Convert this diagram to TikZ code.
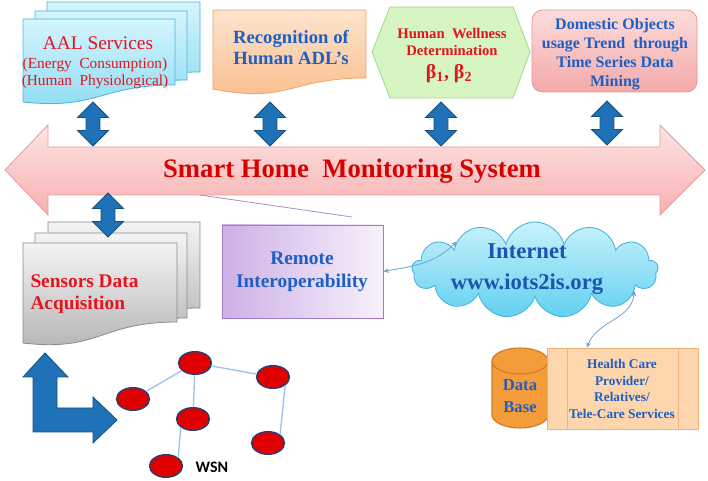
\documentclass[tikz,border=0pt]{standalone}
\usepackage{fontspec}
\setmainfont{Liberation Serif}
\newfontfamily\wsnfont{Carlito}
\usetikzlibrary{shapes.geometric,shapes.symbols,shapes.arrows,arrows.meta}

\definecolor{aaltop}{HTML}{D4F5FD}
\definecolor{aalbot}{HTML}{8EDCF2}
\definecolor{aaldraw}{HTML}{4FB3D9}
\definecolor{rectop}{HTML}{FDE3CC}
\definecolor{recbot}{HTML}{F9BD8A}
\definecolor{recdraw}{HTML}{F0A468}
\definecolor{hexfill}{HTML}{D6F5C2}
\definecolor{hexdraw}{HTML}{9FD88A}
\definecolor{domtop}{HTML}{FCDCDC}
\definecolor{dombot}{HTML}{F4A9A9}
\definecolor{domdraw}{HTML}{E49494}
\definecolor{bigtop}{HTML}{FDE4E4}
\definecolor{bigbot}{HTML}{F7B0B0}
\definecolor{bigdraw}{HTML}{E79A9A}
\definecolor{arrowblue}{HTML}{1F72B8}
\definecolor{arrowedge}{HTML}{16507F}
\definecolor{sentop}{HTML}{F4F4F4}
\definecolor{senbot}{HTML}{B3B3B3}
\definecolor{sendraw}{HTML}{8A8A8A}
\definecolor{remleft}{HTML}{CDB0E6}
\definecolor{remright}{HTML}{F7F1FB}
\definecolor{remdraw}{HTML}{A07CC8}
\definecolor{cloudtop}{HTML}{C8F2FC}
\definecolor{cloudbot}{HTML}{62D0F0}
\definecolor{clouddraw}{HTML}{3FB1D9}
\definecolor{dbfill}{HTML}{F49B3A}
\definecolor{dbdraw}{HTML}{D07A20}
\definecolor{hcfill}{HTML}{FDD6AD}
\definecolor{hcdraw}{HTML}{F0B27A}
\definecolor{wsnred}{HTML}{E00000}
\definecolor{wsnedge}{HTML}{1F3F7A}
\definecolor{wsnline}{HTML}{9DC3E6}
\definecolor{weblink}{HTML}{6FA3D6}
\definecolor{txtred}{HTML}{E3141E}
\definecolor{txtblue}{HTML}{1F5FC4}
\definecolor{linepurple}{HTML}{A890C8}

\tikzset{every picture/.style={line width=0.75pt}}
\tikzset{
  aalsheet/.style={draw=aaldraw, line width=0.6pt, top color=aaltop, bottom color=aalbot},
  sensheet/.style={draw=sendraw, line width=0.6pt, top color=sentop, bottom color=senbot},
  updown/.style={double arrow, rotate=90, minimum height=33pt, inner xsep=0pt, inner ysep=4.9pt,
    double arrow head extend=6.4pt, fill=arrowblue, draw=arrowedge, line width=0.6pt},
  wsnnode/.style={ellipse, minimum width=24.75pt, minimum height=17pt, inner sep=0pt,
    fill=wsnred, draw=wsnedge, line width=1pt},
  wsnlink/.style={draw=wsnline, line width=1pt},
  webarrow/.style={draw=weblink, line width=0.6pt, {Stealth[length=4pt,width=3.5pt]}-{Stealth[length=4pt,width=3.5pt]}},
  redtext/.style={text=txtred, inner sep=0pt, align=center},
  bluetext/.style={text=txtblue, inner sep=0pt, align=center}
}

\begin{document}
\begin{tikzpicture}[x=0.75pt,y=0.75pt,yscale=-1,xscale=1]
\path[fill=white] (0,0) rectangle (708,481);
\useasboundingbox (0,0) rectangle (708,481);

%Shape: Document stack, AAL Services
\draw[aalsheet] (47,2) -- (200,2) -- (200,72) .. controls (123,72) and (123,97) .. (47,87) -- cycle ;
\draw[aalsheet] (35,11) -- (187,11) -- (187,80) .. controls (111,80) and (111,105) .. (35,95) -- cycle ;
\draw[aalsheet] (23,19) -- (175,19) -- (175,85) .. controls (99,85) and (99,110) .. (23,102) -- cycle ;
% Text Node
\node[redtext, font=\fontsize{14.5}{17}\selectfont] (aal1) at (98,43) {AAL Services};
\node[redtext, font=\fontsize{11.5}{13}\selectfont] (aal2) at (95,65) {(Energy\ \ Consumption)};
\node[redtext, font=\fontsize{11.5}{13}\selectfont] (aal3) at (95,82) {(Human\ \ Physiological)};

%Shape: Document, Recognition
\draw[draw=recdraw, line width=0.6pt, top color=rectop, bottom color=recbot] (213,10) -- (366,10) -- (366,78) .. controls (289,78) and (289,104) .. (213,89) -- cycle ;
% Text Node
\node[bluetext, font=\bfseries\fontsize{14}{15.75}\selectfont] (recog) at (291,48) {Recognition of\\Human ADL’s};

%Shape: Hexagon, Wellness
\draw[draw=hexdraw, line width=0.6pt, fill=hexfill] (372,52) -- (390,7) -- (513,7) -- (530,52) -- (513,98) -- (390,98) -- cycle ;
% Text Node
\node[redtext, font=\bfseries\fontsize{11}{12.75}\selectfont] (well) at (452,42) {Human\ \ Wellness\\Determination};
\node[redtext, font=\bfseries\fontsize{15}{17}\selectfont] (beta) at (449,74) {β\textsubscript{1}, β\textsubscript{2}};

%Shape: Rounded Rectangle, Domestic Objects
\node[draw=domdraw, line width=0.6pt, top color=domtop, bottom color=dombot, rounded corners=8pt,
  minimum width=123.75pt, minimum height=61.5pt, inner sep=0pt] (domestic) at (614.5,51) {};
% Text Node
\node[bluetext, font=\bfseries\fontsize{12}{14.25}\selectfont] (domtext) at (615,54) {Domestic Objects\\usage Trend\ \ through\\Time Series Data\\Mining};

%Shape: Double Arrows
\node[updown] (dar1) at (93,124) {};
\node[updown] (dar2) at (270,124) {};
\node[updown] (dar3) at (441,124) {};
\node[updown] (dar4) at (607,123) {};

%Shape: Left Right Arrow, main system
\draw[draw=bigdraw, line width=0.6pt, top color=bigtop, bottom color=bigbot] (5,170) -- (48,125) -- (48,147) -- (660,147) -- (660,125) -- (705,170) -- (660,215) -- (660,195) -- (48,195) -- (48,215) -- cycle ;
% Text Node
\node[redtext, text=red!85!black, font=\bfseries\fontsize{20}{24}\selectfont] (smart) at (352,171) {Smart\ Home\ \ Monitoring\ System};

%Straight Lines
\draw[linepurple, line width=0.6pt] (200,195) -- (352,217) ;

%Shape: Document stack, Sensors
\draw[sensheet] (48,222) -- (200,222) -- (200,308) .. controls (124,308) and (124,336) .. (48,328) -- cycle ;
\draw[sensheet] (35,233) -- (187,233) -- (187,318) .. controls (111,318) and (111,346) .. (35,338) -- cycle ;
\draw[sensheet] (23,243) -- (177,243) -- (177,322) .. controls (100,322) and (100,352) .. (23,343) -- cycle ;
% Text Node
\node[redtext, align=left, anchor=west, font=\bfseries\fontsize{14.5}{16.5}\selectfont] (sensors) at (30,294) {Sensors Data\\Acquisition};
\node[updown] (dar5) at (108,215) {};

%Shape: Rectangle, Remote
\node[draw=remdraw, line width=0.6pt, left color=remleft, right color=remright,
  minimum width=120.75pt, minimum height=69.75pt, inner sep=0pt] (remote) at (302.5,271.5) {};
% Text Node
\node[bluetext, font=\bfseries\fontsize{14.5}{17}\selectfont] (remtext) at (302,272) {Remote\\Interoperability};

%Shape: Cloud, Internet
\node[cloud, cloud puffs=13, cloud ignores aspect, minimum width=184.5pt, minimum height=72pt, inner sep=0pt,
  draw=clouddraw, line width=0.6pt, top color=cloudtop, bottom color=cloudbot] (cloud) at (535,270) {};
% Text Node
\node[bluetext, text=txtblue!90!black, font=\bfseries\fontsize{17}{23}\selectfont] (inet) at (527,269) {Internet\\www.iots2is.org};

%Shape: Can, Data Base
\draw[draw=dbdraw, line width=0.8pt, fill=dbfill] (492,361) -- (492,415) arc[start angle=180, end angle=0, x radius=28, y radius=13] -- (548,361) ;
\draw[draw=dbdraw, line width=0.8pt, fill=dbfill] (520,361) ellipse [x radius=28, y radius=13] ;
% Text Node
\node[bluetext, font=\bfseries\fontsize{12.5}{16.5}\selectfont] (dbtext) at (520,396) {Data\\Base};

%Shape: Predefined Process, Health Care
\node[draw=hcdraw, line width=0.6pt, fill=hcfill, minimum width=113.25pt, minimum height=60.75pt, inner sep=0pt] (health) at (622.5,388.5) {};
\draw[hcdraw, line width=0.6pt] (567,348) -- (567,429) ;
\draw[hcdraw, line width=0.6pt] (678,348) -- (678,429) ;
% Text Node
\node[bluetext, font=\bfseries\fontsize{10}{12.4}\selectfont] (hctext) at (622,389) {Health Care\\Provider/\\Relatives/\\Tele-Care Services};

%Curve Lines
\draw[webarrow] (remote.east) to[out=-10, in=135] (cloud.160) ;
\draw[webarrow] (cloud.-12) to[out=95, in=-70] (health.131) ;

%Shape: Bent Arrow
\draw[draw=arrowedge, line width=0.6pt, fill=arrowblue] (33,432) -- (33,377) -- (23,377) -- (45,353) -- (68,377) -- (57,377) -- (57,408) -- (93,408) -- (93,397) -- (117,420) -- (93,443) -- (93,432) -- cycle ;

%Shape: WSN nodes
\node[wsnnode] (w1) at (195,363) {};
\node[wsnnode] (w2) at (273,377) {};
\node[wsnnode] (w3) at (133,399) {};
\node[wsnnode] (w4) at (193,419) {};
\node[wsnnode] (w5) at (268,443) {};
\node[wsnnode] (w6) at (166,466) {};
\draw[wsnlink] (w3) -- (w1) ;
\draw[wsnlink] (w1) -- (w2) ;
\draw[wsnlink] (w1) -- (w4) ;
\draw[wsnlink] (w2.south east) -- (w5.north east) ;
\draw[wsnlink] (w4.south west) -- (w6.north east) ;
% Text Node
\node[inner sep=0pt, font=\wsnfont\bfseries\fontsize{12}{14}\selectfont] (wsn) at (212,467) {WSN};

\end{tikzpicture}
\end{document}
